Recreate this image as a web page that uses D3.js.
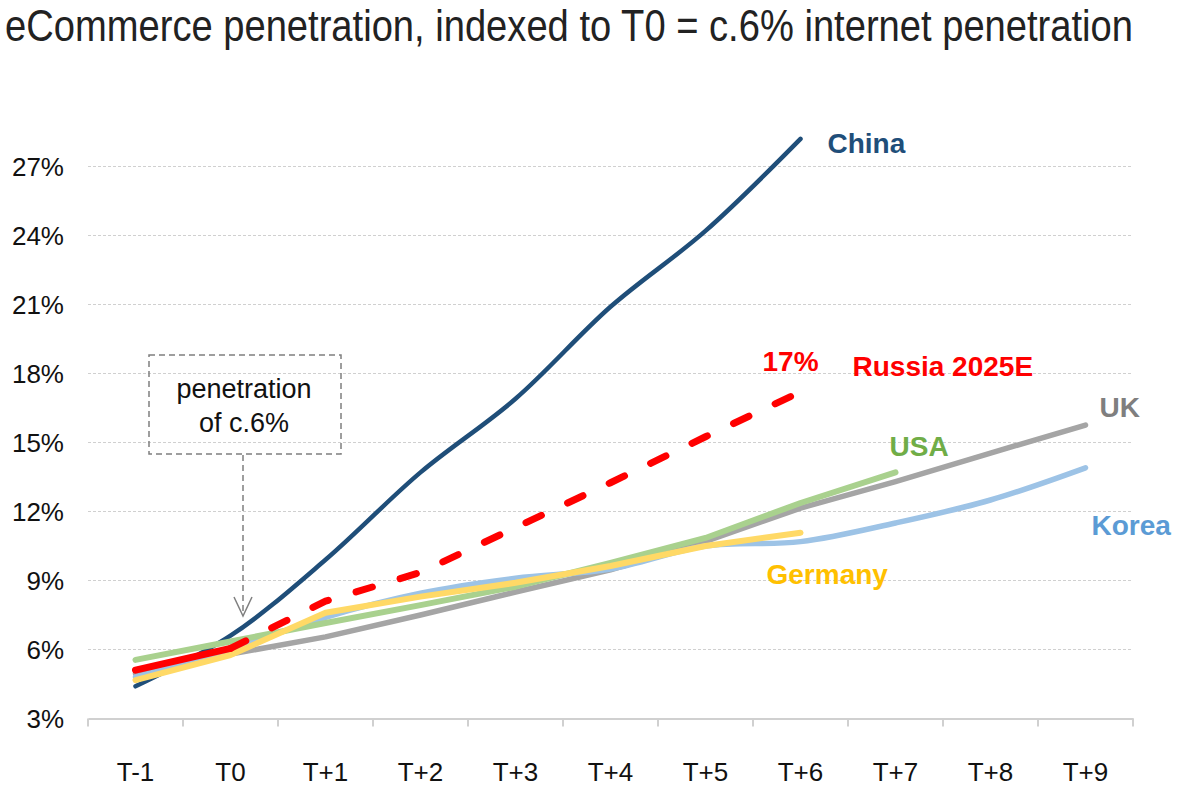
<!DOCTYPE html>
<html><head><meta charset="utf-8">
<script src="https://cdn.jsdelivr.net/npm/d3@7"></script>
<style>body{margin:0;background:#fff}</style>
</head><body>
<svg id="c" width="1200" height="808"></svg>
<script>
const categories = ["T-1","T0","T+1","T+2","T+3","T+4","T+5","T+6","T+7","T+8","T+9"];
const yTicks = [3,6,9,12,15,18,21,24,27];
const china   = [4.4, 6.6, 9.9, 13.7, 16.9, 20.9, 24.2, 28.2];
const russia  = [5.1, 6.05, 8.1, 9.35, 11.3, 13.25, 15.25, 17.2];
const uk      = [4.95, 5.8, 6.55, 7.5, 8.5, 9.46, 10.7, 12.15, 13.3, 14.54, 15.76];
const usa     = [5.55, 6.35, 7.15, 7.93, 8.73, 9.76, 10.85, 12.37, 13.7];
const korea   = [4.8, 6.0, 7.4, 8.45, 9.1, 9.5, 10.5, 10.69, 11.5, 12.5, 13.9];
const germany = [4.67, 5.76, 7.6, 8.3, 8.9, 9.63, 10.5, 11.08];

const title = "eCommerce penetration, indexed to T0 = c.6% internet penetration";
const labels = [
  {text:"China", cat:"T+6", dx:27, v:27.6, color:"#1F4E79"},
  {text:"17%", cat:"T+6", dx:-38, v:18.1, color:"#FF0000"},
  {text:"Russia 2025E", cat:"T+6", dx:52, v:17.9, color:"#FF0000"},
  {text:"UK", cat:"T+9", dx:14, v:16.1, color:"#7F7F7F"},
  {text:"USA", cat:"T+7", dx:-6, v:14.4, color:"#70AD47"},
  {text:"Korea", cat:"T+9", dx:6, v:11.0, color:"#5B9BD5"},
  {text:"Germany", cat:"T+6", dx:-34, v:8.85, color:"#FFC000"}
];

const svg = d3.select("#c");
const x = d3.scaleBand().domain(categories).range([88, 1133]);
const y = d3.scaleLinear().domain([3, 27]).range([718.5, 166.5]);
const cx = c => x(c) + x.bandwidth()/2;

// title (condensed look: smaller font stretched vertically)
svg.append("g").attr("transform", "translate(5,41) scale(1,1.3)")
  .append("text").attr("x", 0).attr("y", 0)
  .attr("font-family", "'Liberation Sans Narrow','Arial Narrow','Liberation Sans',Arial,sans-serif")
  .attr("font-size", 34).attr("fill", "#222")
  .attr("textLength", 1128).attr("lengthAdjust", "spacingAndGlyphs")
  .text(title);

// gridlines
svg.append("g").selectAll("line").data(yTicks.filter(d => d > 3)).join("line")
  .attr("x1", 88).attr("x2", 1133)
  .attr("y1", d => y(d)).attr("y2", d => y(d))
  .attr("stroke", "#D0D0D0").attr("stroke-width", 1).attr("stroke-dasharray", "3,2");

// y labels
svg.append("g").selectAll("text").data(yTicks).join("text")
  .attr("x", 64).attr("y", d => y(d) + 9)
  .attr("text-anchor", "end")
  .attr("font-family", "'Liberation Sans',Arial,sans-serif").attr("font-size", 26)
  .attr("fill", "#111").text(d => d + "%");

// x axis
const xAxis = d3.axisBottom(x).tickSize(0).tickPadding(0).tickFormat("");
const gx = svg.append("g").attr("transform", `translate(0,${y(3)})`).call(xAxis);
gx.select(".domain").attr("stroke", "#D0D0D0").attr("stroke-width", 2);
const bounds = categories.map(c => x(c)).concat([x(categories[categories.length-1]) + x.bandwidth()]);
svg.append("g").selectAll("line").data(bounds).join("line")
  .attr("x1", d => d).attr("x2", d => d)
  .attr("y1", y(3)).attr("y2", y(3) + 8)
  .attr("stroke", "#D0D0D0").attr("stroke-width", 2);
svg.append("g").selectAll("text").data(categories).join("text")
  .attr("x", d => cx(d)).attr("y", 781)
  .attr("text-anchor", "middle")
  .attr("font-family", "'Liberation Sans',Arial,sans-serif").attr("font-size", 26)
  .attr("fill", "#111").text(d => d);

// annotation box
const ann = svg.append("g");
ann.append("rect").attr("x", 149).attr("y", 355).attr("width", 192).attr("height", 99)
  .attr("fill", "none").attr("stroke", "#7F7F7F").attr("stroke-width", 1.5).attr("stroke-dasharray", "6,4");
ann.append("text").attr("x", 244).attr("y", 398).attr("text-anchor", "middle")
  .attr("font-family", "'Liberation Sans',Arial,sans-serif").attr("font-size", 27).attr("fill", "#111")
  .text("penetration");
ann.append("text").attr("x", 244).attr("y", 432).attr("text-anchor", "middle")
  .attr("font-family", "'Liberation Sans',Arial,sans-serif").attr("font-size", 27).attr("fill", "#111")
  .text("of c.6%");
ann.append("line").attr("x1", 243).attr("x2", 243).attr("y1", 455).attr("y2", 615)
  .attr("stroke", "#7F7F7F").attr("stroke-width", 1.5).attr("stroke-dasharray", "6,4");
ann.append("path").attr("d", "M234,597 L243,616 L252,597")
  .attr("fill", "none").attr("stroke", "#7F7F7F").attr("stroke-width", 1.5);

// lines
const mk = (curve) => d3.line().x((d,i) => cx(categories[i])).y(d => y(d)).curve(curve);
const linL = mk(d3.curveLinear);
const smooth = mk(d3.curveCatmullRom.alpha(0.5));
const g = svg.append("g").attr("fill", "none").attr("stroke-linecap", "round").attr("stroke-linejoin", "round");
g.append("path").attr("d", smooth(china)).attr("stroke", "#1F4E79").attr("stroke-width", 4.5);
g.append("path").attr("d", linL(uk)).attr("stroke", "#A5A5A5").attr("stroke-width", 5.5);
g.append("path").attr("d", smooth(korea)).attr("stroke", "#9DC3E6").attr("stroke-width", 5.5);
g.append("path").attr("d", linL(usa)).attr("stroke", "#A9D18E").attr("stroke-width", 6);
g.append("path").attr("d", linL(germany)).attr("stroke", "#FFD966").attr("stroke-width", 6);
// Russia: solid history, dashed forecast
const rl = d3.line().x(d => cx(d.c)).y(d => y(d.v));
const rPts = russia.map((v,i) => ({c: categories[i], v}));
g.append("path").attr("d", rl(rPts.slice(0,2))).attr("stroke", "#FF0000").attr("stroke-width", 7);
g.append("path").attr("d", rl(rPts.slice(1))).attr("stroke", "#FF0000").attr("stroke-width", 7)
  .attr("stroke-dasharray", "17,29");

// series labels
svg.append("g").selectAll("text").data(labels).join("text")
  .attr("x", d => cx(d.cat) + d.dx).attr("y", d => y(d.v))
  .attr("font-family", "'Liberation Sans',Arial,sans-serif").attr("font-weight", "bold")
  .attr("font-size", 28).attr("fill", d => d.color).text(d => d.text);
</script>
</body></html>
